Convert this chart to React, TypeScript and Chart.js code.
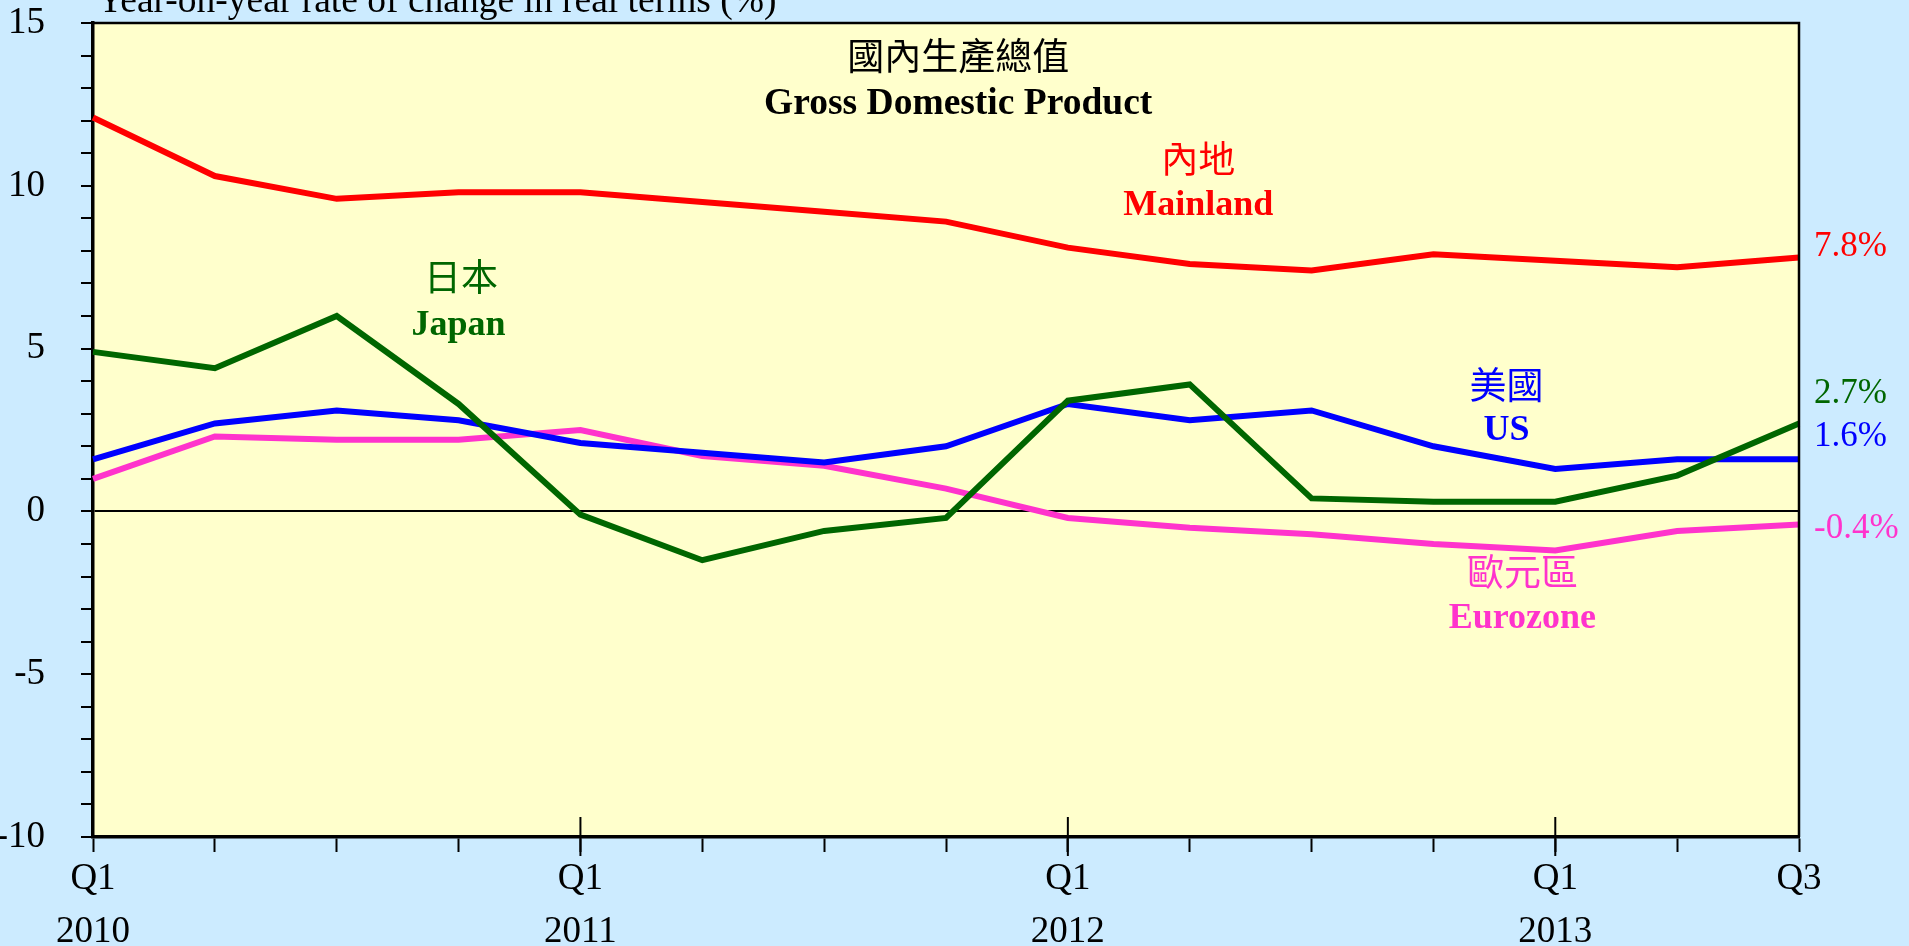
import React, { useEffect, useRef } from "react";
import { Chart, registerables } from "chart.js";

Chart.register(...registerables);

// ---------- data ----------
const quarters: (string | string[])[] = [
  ["Q1", "2010"], "", "", "",
  ["Q1", "2011"], "", "", "",
  ["Q1", "2012"], "", "", "",
  ["Q1", "2013"], "", "Q3",
];

const mainland = [12.1, 10.3, 9.6, 9.8, 9.8, 9.5, 9.2, 8.9, 8.1, 7.6, 7.4, 7.9, 7.7, 7.5, 7.8];
const japan = [4.9, 4.4, 6.0, 3.3, -0.1, -1.5, -0.6, -0.2, 3.4, 3.9, 0.4, 0.3, 0.3, 1.1, 2.7];
const us = [1.6, 2.7, 3.1, 2.8, 2.1, 1.8, 1.5, 2.0, 3.3, 2.8, 3.1, 2.0, 1.3, 1.6, 1.6];
const eurozone = [1.0, 2.3, 2.2, 2.2, 2.5, 1.7, 1.4, 0.7, -0.2, -0.5, -0.7, -1.0, -1.2, -0.6, -0.4];

const yMin = -10;
const yMax = 15;
const yLabelStep = 5;

const yAxisTitle = "Year-on-year rate of change in real terms (%)";
const endLabels = ["7.8%", "2.7%", "1.6%", "-0.4%"];

// ---------- styles ----------
const RED = "#FF0000";
const GREEN = "#006600";
const BLUE = "#0000FF";
const PINK = "#FF33CC";
const PAGE_BG = "#CCEBFF";
const PLOT_BG = "#FFFFCC";
const SERIF = "'Liberation Serif', 'Times New Roman', 'Noto Sans CJK TC', serif";

// text annotations placed in data coordinates (x = quarter index, y = value)
const annotations = [
  { text: "國內生產總值", x: 7.1, y: 13.85, color: "#000000", bold: false, size: 37 },
  { text: "Gross Domestic Product", x: 7.1, y: 12.5, color: "#000000", bold: true, size: 37.5 },
  { text: "內地", x: 9.07, y: 10.7, color: RED, bold: false, size: 37 },
  { text: "Mainland", x: 9.07, y: 9.4, color: RED, bold: true, size: 36 },
  { text: "日本", x: 3.02, y: 7.08, color: GREEN, bold: false, size: 37 },
  { text: "Japan", x: 3.0, y: 5.7, color: GREEN, bold: true, size: 36 },
  { text: "美國", x: 11.6, y: 3.76, color: BLUE, bold: false, size: 37 },
  { text: "US", x: 11.6, y: 2.47, color: BLUE, bold: true, size: 36 },
  { text: "歐元區", x: 11.73, y: -1.98, color: PINK, bold: false, size: 37 },
  { text: "Eurozone", x: 11.73, y: -3.3, color: PINK, bold: true, size: 36 },
];
const endLabelY = [8.12, 3.61, 2.29, -0.54];
const endLabelColors = [RED, GREEN, BLUE, PINK];

const decorPlugin = {
  id: "decor",
  beforeDraw(chart: any) {
    const { ctx, chartArea } = chart;
    ctx.save();
    ctx.fillStyle = PLOT_BG;
    ctx.fillRect(chartArea.left, chartArea.top, chartArea.right - chartArea.left, chartArea.bottom - chartArea.top);
    ctx.restore();
  },
  afterDraw(chart: any) {
    const { ctx, chartArea, scales } = chart;
    const xs = scales.x;
    const ys = scales.y;
    ctx.save();
    // top & right frame
    ctx.strokeStyle = "#000";
    ctx.lineWidth = 2.5;
    ctx.beginPath();
    ctx.moveTo(chartArea.left, chartArea.top);
    ctx.lineTo(chartArea.right, chartArea.top);
    ctx.lineTo(chartArea.right, chartArea.bottom);
    ctx.stroke();
    // year ticks crossing the axis
    ctx.lineWidth = 2;
    quarters.forEach((q, i) => {
      if (Array.isArray(q) && i > 0) {
        const px = xs.getPixelForValue(i);
        ctx.beginPath();
        ctx.moveTo(px, chartArea.bottom - 20);
        ctx.lineTo(px, chartArea.bottom + 19);
        ctx.stroke();
      }
    });
    // y axis title
    ctx.fillStyle = "#000";
    ctx.font = `37.5px ${SERIF}`;
    ctx.textAlign = "left";
    ctx.textBaseline = "alphabetic";
    ctx.fillText(yAxisTitle, chartArea.left + 4, chartArea.top - 11);
    // annotations
    ctx.textAlign = "center";
    ctx.textBaseline = "middle";
    annotations.forEach((a) => {
      ctx.fillStyle = a.color;
      ctx.font = `${a.bold ? "bold " : ""}${a.size}px ${SERIF}`;
      ctx.fillText(a.text, xs.getPixelForValue(a.x), ys.getPixelForValue(a.y));
    });
    // end labels
    ctx.textAlign = "left";
    ctx.font = `35px ${SERIF}`;
    endLabels.forEach((t, i) => {
      ctx.fillStyle = endLabelColors[i];
      ctx.fillText(t, chartArea.right + 15, ys.getPixelForValue(endLabelY[i]));
    });
    ctx.restore();
  },
};

export default function App() {
  const ref = useRef<HTMLCanvasElement | null>(null);

  useEffect(() => {
    if (!ref.current) return;
    const mk = (label: string, data: number[], color: string) => ({
      label,
      data,
      borderColor: color,
      backgroundColor: color,
      borderWidth: 6,
      pointRadius: 0,
      tension: 0,
      fill: false,
    });
    const chart = new Chart(ref.current, {
      type: "line",
      data: {
        labels: quarters,
        datasets: [
          mk("Mainland", mainland, RED),
          mk("Japan", japan, GREEN),
          mk("US", us, BLUE),
          mk("Eurozone", eurozone, PINK),
        ],
      },
      options: {
        responsive: false,
        animation: false,
        devicePixelRatio: 1,
        layout: { padding: { top: 23, right: 110, left: 0, bottom: 0 } },
        plugins: {
          legend: { display: false },
          tooltip: { enabled: false },
          title: { display: false },
        },
        scales: {
          x: {
            type: "category",
            offset: false,
            afterFit: (s: any) => {
              s.height = 109;
              s.paddingLeft = 0;
              s.paddingRight = 0;
            },
            grid: {
              drawOnChartArea: false,
              drawTicks: true,
              tickLength: 15,
              tickColor: "#000",
              tickWidth: 2,
            },
            border: { display: true, color: "#000", width: 3.5 },
            ticks: {
              autoSkip: false,
              maxRotation: 0,
              minRotation: 0,
              color: "#000",
              padding: 1,
              font: { family: SERIF, size: 37, lineHeight: 1.42 },
            },
          },
          y: {
            type: "linear",
            min: yMin,
            max: yMax,
            afterFit: (s: any) => {
              s.width = 93;
              s.paddingTop = 0;
              s.paddingBottom = 0;
            },
            grid: {
              drawOnChartArea: true,
              drawTicks: true,
              tickLength: 12,
              color: (c: any) => (c.tick && c.tick.value === 0 ? "#000" : "rgba(0,0,0,0)"),
              lineWidth: (c: any) => (c.tick && c.tick.value === 0 ? 2 : 0),
              tickColor: "#000",
              tickWidth: 2,
            },
            border: { display: true, color: "#000", width: 3.5 },
            ticks: {
              stepSize: 1,
              autoSkip: false,
              color: "#000",
              padding: 36,
              font: { family: SERIF, size: 37 },
              callback: (v: any) => (Number(v) % yLabelStep === 0 ? String(v) : ""),
            },
          },
        },
      },
      plugins: [decorPlugin],
    });
    return () => chart.destroy();
  }, []);

  return (
    <div style={{ position: "fixed", left: 0, top: 0, width: 1909, height: 946, background: PAGE_BG }}>
      <canvas ref={ref} width={1909} height={946} style={{ display: "block" }} />
    </div>
  );
}
